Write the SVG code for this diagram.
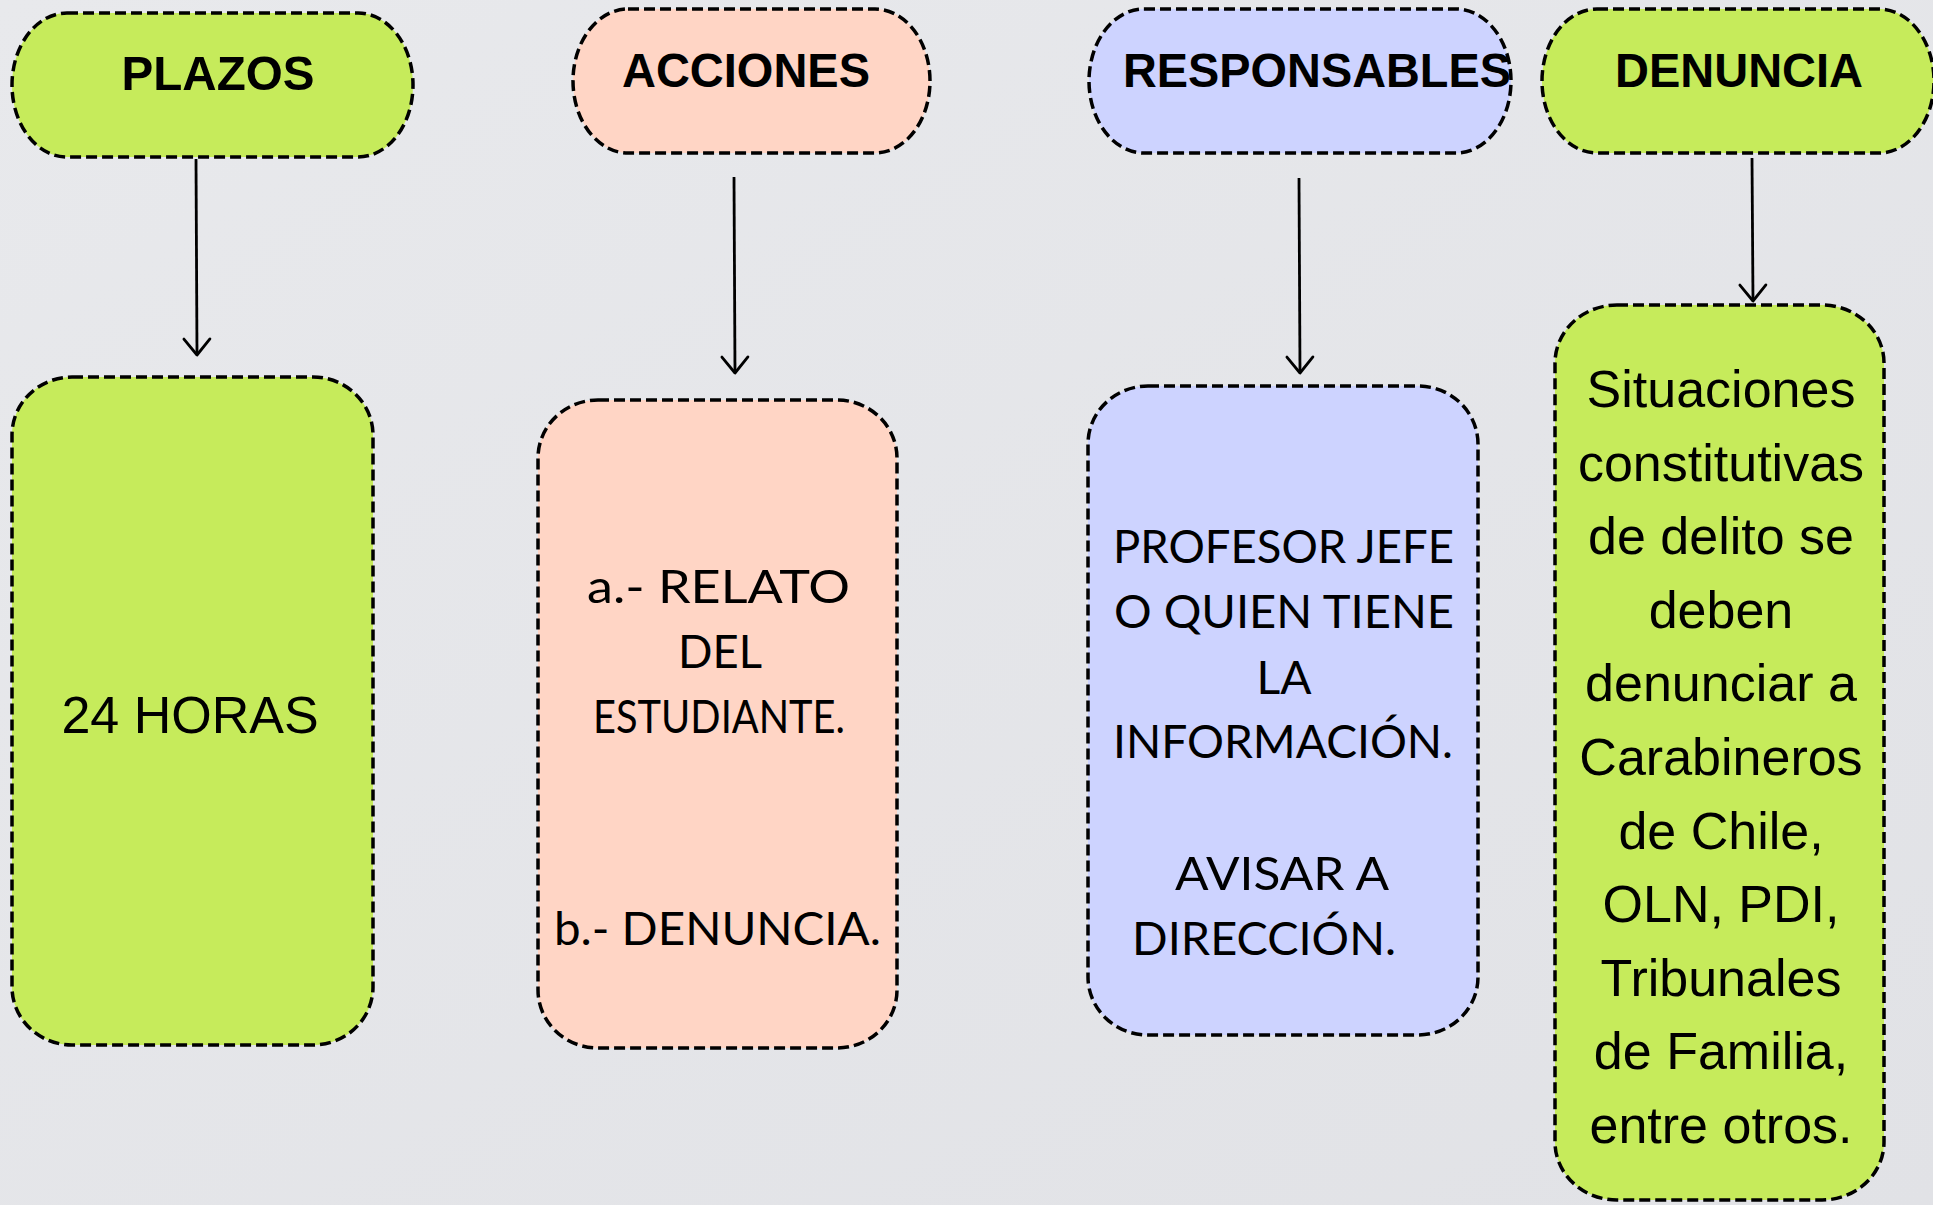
<svg xmlns="http://www.w3.org/2000/svg" width="1933" height="1205" viewBox="0 0 1933 1205">
  <defs>
    <linearGradient id="bg" x1="0" y1="0" x2="1" y2="1">
      <stop offset="0" stop-color="#e8e9ec"/>
      <stop offset="1" stop-color="#e1e2e6"/>
    </linearGradient>
    <marker id="arrow" viewBox="-20 -20 40 40" markerWidth="40" markerHeight="40" refX="0" refY="0" orient="auto" markerUnits="userSpaceOnUse">
      <path d="M-16,-13 L0,0 L-16,13" fill="none" stroke="#000" stroke-width="2.8" stroke-linecap="round" stroke-linejoin="round"/>
    </marker>
  </defs>
  <style>
    .box { stroke: #000; stroke-width: 3.5; stroke-dasharray: 11 5; }
    .green { fill: #c6eb5b; }
    .salmon { fill: #ffd5c5; }
    .lav { fill: #cdd3ff; }
    .head { font-family: "Liberation Sans Narrow", "Liberation Sans", Arial, sans-serif; font-weight: bold; font-size: 49px; fill: #000; text-anchor: middle; }
    .arial { font-family: "Liberation Sans", Arial, sans-serif; font-size: 52px; fill: #000; text-anchor: middle; }
    .hum { font-family: Lato, "Open Sans", "Liberation Sans", sans-serif; font-size: 47px; fill: #000; text-anchor: middle; }
    .conn { stroke: #000; stroke-width: 2.8; fill: none; }
  </style>
  <rect x="0" y="0" width="1933" height="1205" fill="url(#bg)"/>

  <g id="plazos">
    <rect class="box green" x="12" y="13" width="401" height="144" rx="55" ry="72"/>
    <text class="head" x="218" y="90" textLength="193" lengthAdjust="spacingAndGlyphs">PLAZOS</text>
  </g>
  <g id="acciones">
    <rect class="box salmon" x="573" y="9" width="357" height="144" rx="55" ry="72"/>
    <text class="head" x="746" y="87" textLength="248" lengthAdjust="spacingAndGlyphs">ACCIONES</text>
  </g>
  <g id="responsables">
    <rect class="box lav" x="1089" y="9" width="422" height="144" rx="55" ry="72"/>
    <text class="head" x="1317" y="87" textLength="388" lengthAdjust="spacingAndGlyphs">RESPONSABLES</text>
  </g>
  <g id="denuncia">
    <rect class="box green" x="1542" y="9" width="392" height="144" rx="55" ry="72"/>
    <text class="head" x="1739" y="87" textLength="248" lengthAdjust="spacingAndGlyphs">DENUNCIA</text>
  </g>

  <g id="horas">
    <rect class="box green" x="12" y="377" width="361" height="668" rx="60" ry="58"/>
    <text class="arial" x="190" y="733">24 HORAS</text>
  </g>
  <g id="acciones-detalle">
    <rect class="box salmon" x="538" y="400" width="359" height="648" rx="60" ry="58"/>
    <text class="hum" x="718.5" y="603" textLength="263" lengthAdjust="spacingAndGlyphs">a.- RELATO</text>
    <text class="hum" x="720" y="668" textLength="84" lengthAdjust="spacingAndGlyphs">DEL</text>
    <text class="hum" x="719" y="733" textLength="252" lengthAdjust="spacingAndGlyphs">ESTUDIANTE.</text>
    <text class="hum" x="717.5" y="945" textLength="327" lengthAdjust="spacingAndGlyphs">b.- DENUNCIA.</text>
  </g>
  <g id="responsables-detalle">
    <rect class="box lav" x="1088" y="386" width="390" height="649" rx="60" ry="58"/>
    <text class="hum" x="1283.5" y="563" textLength="341" lengthAdjust="spacingAndGlyphs">PROFESOR JEFE</text>
    <text class="hum" x="1284" y="628" textLength="340" lengthAdjust="spacingAndGlyphs">O QUIEN TIENE</text>
    <text class="hum" x="1284" y="694" textLength="55" lengthAdjust="spacingAndGlyphs">LA</text>
    <text class="hum" x="1283" y="758" textLength="340" lengthAdjust="spacingAndGlyphs">INFORMACIÓN.</text>
    <text class="hum" x="1282" y="890" textLength="214" lengthAdjust="spacingAndGlyphs">AVISAR A</text>
    <text class="hum" x="1264" y="955" textLength="264" lengthAdjust="spacingAndGlyphs">DIRECCIÓN.</text>
  </g>
  <g id="denuncia-detalle">
    <rect class="box green" x="1555" y="305" width="329" height="895" rx="62" ry="58"/>
    <text class="arial" x="1721" y="407">Situaciones</text>
    <text class="arial" x="1721" y="481">constitutivas</text>
    <text class="arial" x="1721" y="554">de delito se</text>
    <text class="arial" x="1721" y="628">deben</text>
    <text class="arial" x="1721" y="701">denunciar a</text>
    <text class="arial" x="1721" y="775">Carabineros</text>
    <text class="arial" x="1721" y="849">de Chile,</text>
    <text class="arial" x="1721" y="922">OLN, PDI,</text>
    <text class="arial" x="1721" y="996">Tribunales</text>
    <text class="arial" x="1721" y="1069">de Familia,</text>
    <text class="arial" x="1721" y="1143">entre otros.</text>
  </g>

  <g id="connectors">
    <line class="conn" x1="196" y1="159" x2="197" y2="355" marker-end="url(#arrow)"/>
    <line class="conn" x1="734" y1="177" x2="735" y2="373" marker-end="url(#arrow)"/>
    <line class="conn" x1="1299" y1="178" x2="1300" y2="373" marker-end="url(#arrow)"/>
    <line class="conn" x1="1752" y1="158" x2="1753" y2="301" marker-end="url(#arrow)"/>
  </g>
</svg>
